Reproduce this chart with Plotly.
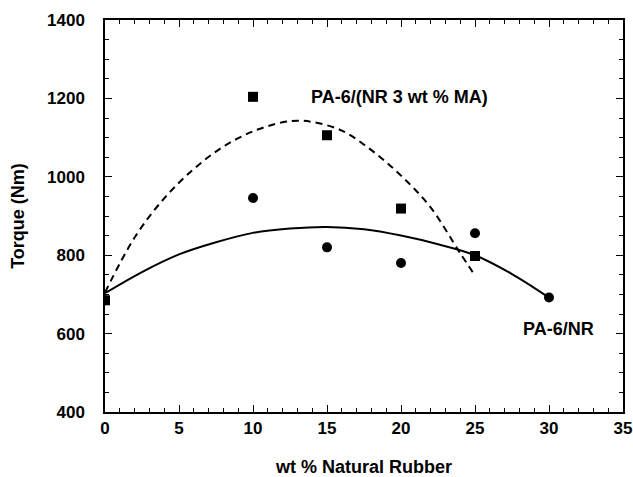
import plotly.graph_objects as go

# Measured points
x_ma = [0, 10, 15, 20, 25]
y_ma = [685, 1204, 1106, 919, 798]
x_nr = [0, 10, 15, 20, 25, 30]
y_nr = [685, 946, 820, 780, 856, 692]

# Fitted curves
x_fit_nr = [0, 2.5, 5, 7.5, 10, 12.5, 15, 17.5, 20, 22.5, 25, 27.5, 30]
y_fit_nr = [703, 757, 802, 833, 857, 868, 872, 866, 850, 828, 800, 752, 692]
x_fit_ma = [0, 2, 4, 6, 8, 10, 12, 13, 14, 16, 18, 20, 22, 24, 25]
y_fit_ma = [705, 845, 945, 1020, 1077, 1116, 1139, 1143, 1140, 1118, 1068, 1003, 922, 805, 748]

label_ma = "PA-6/(NR 3 wt % MA)"
label_nr = "PA-6/NR"

font = "Liberation Sans, Arial, sans-serif"

fig = go.Figure()
fig.add_trace(go.Scatter(x=x_fit_ma, y=y_fit_ma, mode="lines",
                         line=dict(color="black", width=2, dash="7px,5px", shape="spline"),
                         showlegend=False, hoverinfo="skip"))
fig.add_trace(go.Scatter(x=x_fit_nr, y=y_fit_nr, mode="lines",
                         line=dict(color="black", width=2, shape="spline"),
                         showlegend=False, hoverinfo="skip"))
fig.add_trace(go.Scatter(x=x_nr, y=y_nr, mode="markers",
                         marker=dict(symbol="circle", size=10, color="black"),
                         showlegend=False))
fig.add_trace(go.Scatter(x=x_ma, y=y_ma, mode="markers",
                         marker=dict(symbol="square", size=10, color="black"),
                         showlegend=False))

fig.add_annotation(x=19.9, y=1204, text="<b>" + label_ma + "</b>", showarrow=False,
                   font=dict(family=font, size=18, color="black"))
fig.add_annotation(x=30.64, y=613, text="<b>" + label_nr + "</b>", showarrow=False,
                   font=dict(family=font, size=18, color="black"))

axis_common = dict(
    showgrid=False, zeroline=False, showline=True, linecolor="black", linewidth=1.5,
    mirror="ticks", ticks="inside", tickcolor="black", ticklen=7, tickwidth=1,
    tickfont=dict(family=font, size=17, color="black"), automargin=False,
    tickprefix="<b>", ticksuffix="</b>",
)

fig.update_xaxes(range=[0, 35], dtick=5, tick0=0,
                 minor=dict(dtick=1, ticks="inside", ticklen=4, tickcolor="black", tickwidth=1),
                 title=dict(text="<b>wt % Natural Rubber</b>", standoff=24,
                            font=dict(family=font, size=18, color="black")),
                 **axis_common)
fig.update_yaxes(range=[400, 1400], dtick=200, tick0=400,
                 minor=dict(dtick=50, ticks="inside", ticklen=4, tickcolor="black", tickwidth=1),
                 ticklabelstandoff=15,
                 title=dict(text="<b>Torque (Nm)</b>", standoff=18,
                            font=dict(family=font, size=18, color="black")),
                 **axis_common)

fig.update_layout(
    width=633, height=477,
    margin=dict(l=105, r=10, t=20, b=65),
    plot_bgcolor="white", paper_bgcolor="white",
    font=dict(family=font, size=17, color="black"),
)

fig.write_html("out.html", config={"displayModeBar": False},
               post_script="document.body.style.margin='0';document.body.style.overflow='hidden';")
